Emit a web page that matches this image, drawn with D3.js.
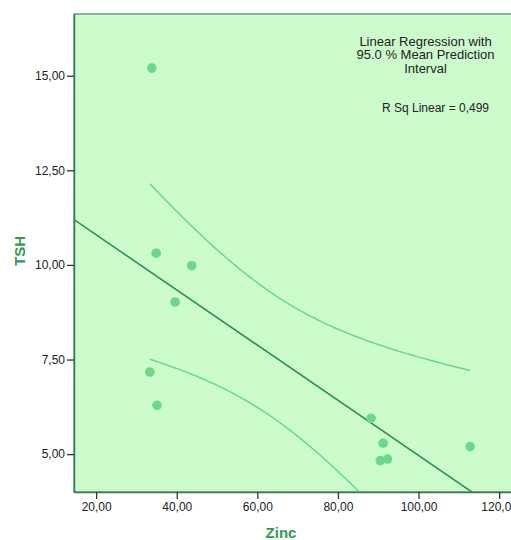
<!DOCTYPE html>
<html>
<head>
<meta charset="utf-8">
<script src="https://cdn.jsdelivr.net/npm/d3@7"></script>
<style>
  body { margin: 0; background: #fff; overflow: hidden; }
  svg { display: block; font-family: "Liberation Sans", Arial, sans-serif; }
</style>
</head>
<body>
<div id="container"></div>
<script>
const zinc = [33.8, 34.9, 43.7, 39.6, 33.3, 35.1, 88.2, 91.2, 90.5, 92.3, 112.8];
const tsh  = [15.2, 10.31, 9.98, 9.02, 7.17, 6.29, 5.95, 5.29, 4.83, 4.87, 5.2];

const xTicks = [20, 40, 60, 80, 100, 120];
const yTicks = [5, 7.5, 10, 12.5, 15];
const annotation = ["Linear Regression with", "95.0 % Mean Prediction", "Interval"];
const rSqLabel = "R Sq Linear = 0,499";
const tCrit = 2.262; // t(0.975, df = 9)

const margin = { top: 14, left: 74 },
    plotRight = 535,
    plotBottom = 492;

const svg = d3.select("#container")
    .append("svg")
    .attr("width", 511)
    .attr("height", 540);

const x = d3.scaleLinear().domain([14.5, 128.9]).range([margin.left, plotRight]);
const y = d3.scaleLinear().domain([4.0, 16.63]).range([plotBottom, margin.top]);

// fit the regression
const n = zinc.length;
const xbar = d3.mean(zinc), ybar = d3.mean(tsh);
let sxx = 0, sxy = 0, syy = 0;
zinc.forEach((xi, i) => {
    sxx += (xi - xbar) ** 2;
    sxy += (xi - xbar) * (tsh[i] - ybar);
    syy += (tsh[i] - ybar) ** 2;
});
const slope = sxy / sxx, intercept = ybar - slope * xbar;
const s = Math.sqrt((syy - sxy * sxy / sxx) / (n - 2));
const fit = v => intercept + slope * v;
const half = v => tCrit * s * Math.sqrt(1 / n + (v - xbar) ** 2 / sxx);

svg.append("clipPath").attr("id", "plot-clip")
    .append("rect")
    .attr("x", margin.left).attr("y", margin.top)
    .attr("width", plotRight - margin.left).attr("height", plotBottom - margin.top);

svg.append("rect")
    .attr("x", margin.left).attr("y", margin.top)
    .attr("width", plotRight - margin.left).attr("height", plotBottom - margin.top)
    .attr("fill", "#ccfccc")
    .attr("stroke", "#6e9e80")
    .attr("stroke-width", 1.5);

const plot = svg.append("g").attr("clip-path", "url(#plot-clip)");

// confidence band curves
const xs = d3.range(d3.min(zinc), d3.max(zinc) + 0.01, (d3.max(zinc) - d3.min(zinc)) / 80);
const line = d3.line().x(d => x(d[0])).y(d => y(d[1]));

plot.append("path")
    .datum(xs.map(v => [v, fit(v) + half(v)]))
    .attr("d", line)
    .attr("fill", "none")
    .attr("stroke", "#6ad888")
    .attr("stroke-width", 1.5);

plot.append("path")
    .datum(xs.map(v => [v, fit(v) - half(v)]))
    .attr("d", line)
    .attr("fill", "none")
    .attr("stroke", "#6ad888")
    .attr("stroke-width", 1.5);

// fit line
plot.append("path")
    .datum(x.domain().map(v => [v, fit(v)]))
    .attr("d", line)
    .attr("fill", "none")
    .attr("stroke", "#2b9150")
    .attr("stroke-width", 1.6);

plot.selectAll(".dot")
    .data(zinc.map((v, i) => [v, tsh[i]]))
    .enter()
    .append("circle")
    .attr("class", "dot")
    .attr("cx", d => x(d[0]))
    .attr("cy", d => y(d[1]))
    .attr("r", 4.8)
    .attr("fill", "#6cd88a");

const fmt = v => d3.format(".2f")(v).replace(".", ",");

// axes
const xAxis = svg.append("g")
    .attr("transform", `translate(0, ${plotBottom})`)
    .call(d3.axisBottom(x).tickValues(xTicks).tickFormat(fmt).tickSize(7).tickPadding(3).tickSizeOuter(0));
const yAxis = svg.append("g")
    .attr("transform", `translate(${margin.left}, 0)`)
    .call(d3.axisLeft(y).tickValues(yTicks).tickFormat(fmt).tickSize(7).tickPadding(2).tickSizeOuter(0));

[xAxis, yAxis].forEach(a => {
    a.select(".domain").attr("stroke", "#3b7a50").attr("stroke-width", 1.5);
    a.selectAll(".tick line").attr("stroke", "#333").attr("stroke-width", 1.3);
    a.selectAll(".tick text").attr("fill", "#222").style("font-size", "12px");
});

// axis titles
svg.append("text")
    .attr("x", 281).attr("y", 538)
    .attr("text-anchor", "middle")
    .attr("fill", "#2e9a52")
    .style("font-size", "15px").style("font-weight", "bold")
    .text("Zinc");

svg.append("text")
    .attr("transform", "translate(25, 251) rotate(-90)")
    .attr("text-anchor", "middle")
    .attr("fill", "#2e9a52")
    .style("font-size", "15px").style("font-weight", "bold")
    .text("TSH");

// annotation
svg.append("g").selectAll("text")
    .data(annotation)
    .enter()
    .append("text")
    .attr("x", 425.5)
    .attr("y", (d, i) => 46 + i * 13.4)
    .attr("text-anchor", "middle")
    .attr("fill", "#222")
    .style("font-size", "13px")
    .text(d => d);

svg.append("text")
    .attr("x", 435.5).attr("y", 111.5)
    .attr("text-anchor", "middle")
    .attr("fill", "#222")
    .style("font-size", "12px")
    .text(rSqLabel);
</script>
</body>
</html>
